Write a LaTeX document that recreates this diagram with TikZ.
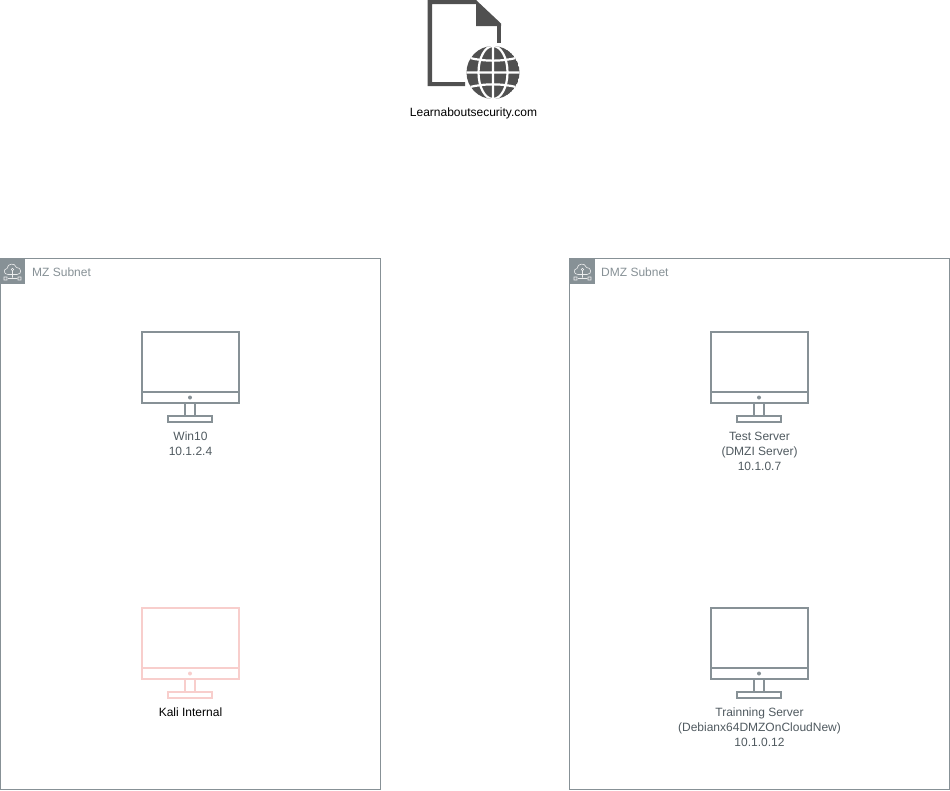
\documentclass[tikz,border=0pt]{standalone}
\usepackage{fontspec}
\setmainfont{Liberation Sans}
\definecolor{awsgray}{HTML}{879196}
\definecolor{lbl}{HTML}{505A60}
\definecolor{kali}{HTML}{F8CECC}
\definecolor{dark}{HTML}{505050}
\tikzset{
  subnetbox/.style={draw=awsgray,line width=0.9pt,fill=white},
  lab/.style={font=\fontsize{12}{15}\selectfont,align=center,text=#1,inner sep=0pt},
  lab/.default=lbl,
  title/.style={font=\fontsize{12}{15}\selectfont,text=awsgray,anchor=west,inner sep=0pt},
  pics/monitor/.style={code={
    \draw[#1,line width=2pt,line join=miter] (-48.5,-65.5) rectangle (49,5.5)
      (-48.5,-5.5) -- (49,-5.5);
    \fill[#1] (0,0) circle (2);
    \draw[#1,line width=2pt] (-5.5,6) -- (-5.5,18) (4.5,6) -- (4.5,18);
    \draw[#1,line width=2pt] (-22.5,18) rectangle (22,24);
  }},
  pics/cloudicon/.style={code={
    \fill[awsgray] (0,0) rectangle (25,25);
    \draw[white!85!awsgray,line width=0.6pt,line join=round]
      (8,15.5) .. controls (3.5,15.5) and (3,10) .. (7,9.5)
      .. controls (7.5,4) and (15,3.5) .. (16.5,8.5)
      .. controls (21.5,8) and (22.5,15.5) .. (17,15.5) -- cycle;
    \draw[white!85!awsgray,line width=0.6pt] (12.5,10.5) circle (1.2) (12.5,11.7) -- (12.5,18.5)
      (8,19.5) -- (17,19.5)
      (4,18) rectangle (7,21) (18,18) rectangle (21,21);
  }}
}
\begin{document}
\begin{tikzpicture}[x=1pt,y=-1pt]
\useasboundingbox (0,0) rectangle (950,790);
% document + globe icon
\fill[dark,even odd rule]
  (427.7,0) -- (476,0) -- (476,4) -- (432,4) -- (432,82) -- (465,82) -- (465,86) -- (427.7,86) -- cycle;
\fill[dark] (476,0) -- (501,23.5) -- (501,26) -- (476,26) -- cycle;
\fill[dark] (497,26) rectangle (501,43);
\begin{scope}
  \clip (493,72.5) circle (26.5);
  \fill[dark] (493,72.5) circle (26.5);
  \draw[white,line width=2.2pt] (493,40) -- (493,106) (460,72.5) -- (526,72.5)
    (493,72.5) ellipse (14.5 and 26.5)
    (470,58) .. controls (484,61.5) and (502,61.5) .. (516,58)
    (470,87) .. controls (484,83.5) and (502,83.5) .. (516,87);
\end{scope}
\node[lab=black] (site) at (473.5,113) {Learnaboutsecurity.com};
% subnets
\draw[subnetbox] (0,258.7) rectangle (380.5,789.5);
\draw[subnetbox] (569.5,258.7) rectangle (949.5,789.5);
\pic at (0,259) {cloudicon};
\pic at (570,259) {cloudicon};
\node[title] (mz) at (32,272) {MZ Subnet};
\node[title] (dmz) at (601,272) {DMZ Subnet};
% monitors
\pic at (190,397.5) {monitor=awsgray};
\pic at (190,673.5) {monitor=kali};
\pic at (759,397.5) {monitor=awsgray};
\pic at (759,673.5) {monitor=awsgray};
\node[lab] (win) at (190.5,443.5) {Win10\\10.1.2.4};
\node[lab=black] (kaliint) at (190.5,712) {Kali Internal};
\node[lab] (test) at (759.5,451) {Test Server\\(DMZI Server)\\10.1.0.7};
\node[lab] (train) at (759.5,727) {Trainning Server\\(Debianx64DMZOnCloudNew)\\10.1.0.12};
\end{tikzpicture}
\end{document}
